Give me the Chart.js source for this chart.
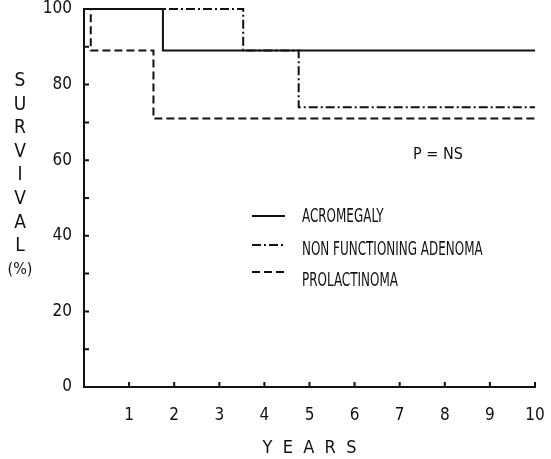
<!DOCTYPE html>
<html>
<head>
<meta charset="utf-8">
<script src="https://cdn.jsdelivr.net/npm/chart.js@4.4.1/dist/chart.umd.min.js"></script>
<style>
  html, body { margin: 0; padding: 0; background: #fff; }
  #wrap { width: 551px; height: 459px; }
</style>
</head>
<body>
<div id="wrap"><canvas id="survivalChart" width="551" height="459"></canvas></div>
<script>
// Kaplan-Meier style survival steps
const seriesNames = ['ACROMEGALY', 'NON FUNCTIONING ADENOMA', 'PROLACTINOMA'];
const acroYears = [0, 1.75, 10];
const acroSurvival = [100, 89, 89];
const nfaYears = [0, 3.53, 4.76, 10];
const nfaSurvival = [100, 89, 74, 74];
const prlYears = [0, 0.15, 1.54, 10];
const prlSurvival = [100, 89, 71, 71];

const xTicks = [1, 2, 3, 4, 5, 6, 7, 8, 9, 10];
const yLabelTicks = [0, 20, 40, 60, 80, 100];
const yAxisLetters = ['S', 'U', 'R', 'V', 'I', 'V', 'A', 'L', '(%)'];
const pValueText = 'P = NS';

const FONT = '"Liberation Sans Narrow", "DejaVu Sans Condensed", "Roboto Condensed", sans-serif';
const INK = '#111';

const toPoints = (xs, ys) => xs.map((x, i) => ({ x, y: ys[i] }));

// short inward tick marks, the way the original was drawn
const inwardTicks = {
  id: 'inwardTicks',
  afterDatasetsDraw(chart) {
    const { ctx, scales: { x, y } } = chart;
    ctx.save();
    ctx.strokeStyle = INK;
    ctx.lineWidth = 2;
    ctx.beginPath();
    x.ticks.forEach(t => {
      if (t.value === 0) return;
      const px = x.getPixelForValue(t.value);
      ctx.moveTo(px, y.bottom);
      ctx.lineTo(px, y.bottom - 5);
    });
    y.ticks.forEach(t => {
      if (t.value === 0 || t.value === 100) return;
      const py = y.getPixelForValue(t.value);
      ctx.moveTo(x.left, py);
      ctx.lineTo(x.left + 5, py);
    });
    ctx.stroke();
    ctx.restore();
  }
};

// vertical letter-stacked y title, legend inside plot, p-value note
const annotations = {
  id: 'annotations',
  afterDraw(chart) {
    const { ctx } = chart;
    ctx.save();
    ctx.fillStyle = INK;
    ctx.textAlign = 'center';
    ctx.textBaseline = 'middle';
    ctx.font = '19px ' + FONT;
    yAxisLetters.forEach((ch, i) => {
      if (ch.length > 1) ctx.font = '16px ' + FONT;
      ctx.fillText(ch, 20, 81 + i * 23.6);
    });

    // legend
    chart.data.datasets.forEach((ds, i) => {
      const ly = [216, 245, 272][i];
      ctx.strokeStyle = INK;
      ctx.lineWidth = 2;
      ctx.setLineDash(ds.borderDash || []);
      ctx.beginPath();
      ctx.moveTo(252, ly);
      ctx.lineTo(285, ly);
      ctx.stroke();
      ctx.setLineDash([]);
      ctx.save();
      ctx.translate(302, [217, 250, 281][i]);
      ctx.scale(0.7, 1);
      ctx.textAlign = 'left';
      ctx.font = '19px ' + FONT;
      ctx.fillText(ds.label, 0, 0);
      ctx.restore();
    });

    ctx.textAlign = 'center';
    ctx.font = '16px ' + FONT;
    ctx.fillText(pValueText, 438, 155);
    ctx.restore();
  }
};

const lineStyle = {
  borderColor: INK,
  borderWidth: 2,
  pointRadius: 0,
  fill: false,
  stepped: 'before',
  clip: false,
  tension: 0
};

new Chart(document.getElementById('survivalChart').getContext('2d'), {
  type: 'line',
  data: {
    datasets: [
      { ...lineStyle, label: seriesNames[0], data: toPoints(acroYears, acroSurvival), borderDash: [], order: 0 },
      { ...lineStyle, label: seriesNames[1], data: toPoints(nfaYears, nfaSurvival), borderDash: [9, 3, 2, 3], order: 1 },
      { ...lineStyle, label: seriesNames[2], data: toPoints(prlYears, prlSurvival), borderDash: [8, 4], order: 2 }
    ]
  },
  options: {
    responsive: false,
    animation: false,
    layout: { padding: { left: 0, right: 16, top: 9, bottom: 0 } },
    plugins: {
      legend: { display: false },
      tooltip: { enabled: false }
    },
    scales: {
      x: {
        type: 'linear',
        min: 0,
        max: 10,
        afterFit(scale) {
          scale.height = 72;
          scale.paddingLeft = 0;
          scale.paddingRight = 0;
        },
        afterBuildTicks(scale) { scale.ticks = [0, ...xTicks].map(v => ({ value: v })); },
        grid: { drawOnChartArea: false, drawTicks: false },
        border: { display: true, color: INK, width: 2 },
        ticks: {
          color: INK,
          padding: 20,
          font: { family: FONT, size: 17, lineHeight: 1 },
          callback: v => (xTicks.includes(v) ? String(v) : '')
        },
        title: {
          display: true,
          text: 'Y  E  A  R  S',
          color: INK,
          font: { family: FONT, size: 18, lineHeight: 1 },
          padding: { top: 4, bottom: 2 }
        }
      },
      y: {
        type: 'linear',
        min: 0,
        max: 100,
        afterFit(scale) {
          scale.width = 84;
          scale.paddingTop = 0;
          scale.paddingBottom = 0;
        },
        grid: { drawOnChartArea: false, drawTicks: false },
        border: { display: true, color: INK, width: 2 },
        ticks: {
          stepSize: 10,
          color: INK,
          padding: 12,
          font: { family: FONT, size: 17, lineHeight: 1 },
          callback: v => (yLabelTicks.includes(v) ? String(v) : '')
        }
      }
    }
  },
  plugins: [inwardTicks, annotations]
});
</script>
</body>
</html>
